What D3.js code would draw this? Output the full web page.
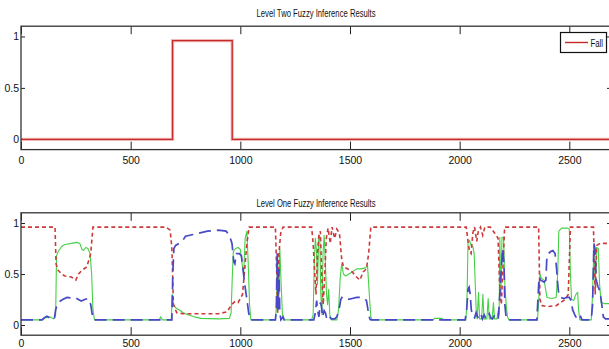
<!DOCTYPE html>
<html>
<head>
<meta charset="utf-8">
<script src="https://cdn.jsdelivr.net/npm/d3@7"></script>
<style>
  html, body { margin: 0; padding: 0; background: #fff; }
  svg { display: block; }
  text { font-family: "Liberation Sans Narrow", "Arial Narrow", "Liberation Sans", sans-serif; fill: #111; }
</style>
</head>
<body>
<svg id="chart" width="609" height="349"></svg>
<script>
// ---------------- data ----------------
const titleTop = "Level Two Fuzzy Inference Results";
const titleBottom = "Level One Fuzzy Inference Results";
const xTicks = [0, 500, 1000, 1500, 2000, 2500];
const yTicks = [0, 0.5, 1];
const xDomain = [0, 2690];
const yDomain = [-0.1, 1.1];
const legendLabels = ["Fall"];

// Level Two: Fall (step)
const fallSeries = [[0, 0], [691, 0.96], [963, 0], [2690, 0]];

// Level One: red dashed
const redSeries = [
  [0,0.96],[155,0.96],[160,0.6],[168,0.54],[185,0.5],[200,0.48],[230,0.47],[250,0.44],[262,0.5],
  [280,0.54],[300,0.57],[318,0.7],[328,0.96],[660,0.96],[680,0.93],[688,0.75],[695,0.2],[710,0.12],
  [740,0.11],[900,0.11],[940,0.13],[960,0.2],[975,0.23],[990,0.22],[1010,0.3],[1030,0.8],[1040,0.96],
  [1160,0.96],[1166,0.5],[1170,0.12],[1176,0.7],[1184,0.9],[1195,0.96],
  [1325,0.96],[1332,0.8],[1338,0.55],[1345,0.3],[1352,0.7],[1358,0.88],[1365,0.92],[1372,0.45],
  [1378,0.2],[1385,0.5],[1392,0.85],[1400,0.95],[1410,0.8],[1418,0.96],[1430,0.85],[1440,0.94],
  [1452,0.9],[1462,0.65],[1470,0.57],[1490,0.55],[1510,0.52],[1530,0.47],[1545,0.44],[1560,0.52],
  [1575,0.55],[1585,0.7],[1595,0.96],
  [2030,0.96],[2038,0.82],[2045,0.72],[2052,0.7],[2060,0.9],[2068,0.96],[2078,0.82],[2085,0.92],
  [2095,0.96],[2105,0.88],[2115,0.96],[2140,0.96],[2160,0.9],[2175,0.85],[2182,0.4],[2190,0.2],
  [2198,0.6],[2205,0.96],[2360,0.96],[2366,0.25],[2375,0.19],[2400,0.18],[2440,0.19],[2460,0.22],
  [2480,0.25],[2495,0.3],[2505,0.96],[2610,0.96],[2618,0.3],[2625,0.78],[2640,0.8],[2690,0.8]
];

// Level One: green solid
const greenSeries = [
  [0,0.05],[100,0.05],[110,0.07],[130,0.08],[150,0.06],[158,0.1],[162,0.68],[170,0.72],[185,0.77],
  [200,0.79],[230,0.8],[255,0.81],[268,0.8],[278,0.74],[285,0.73],[295,0.76],[305,0.75],[315,0.7],
  [322,0.5],[328,0.15],[335,0.05],[630,0.05],[637,0.08],[644,0.05],[685,0.05],[690,0.3],[695,0.2],
  [705,0.17],[720,0.15],[740,0.12],[760,0.1],[790,0.08],[820,0.065],[900,0.06],[950,0.065],
  [958,0.12],[963,0.45],[968,0.72],[978,0.75],[990,0.76],[1000,0.74],[1008,0.6],[1015,0.5],
  [1022,0.85],[1030,0.92],[1036,0.6],[1042,0.2],[1048,0.05],
  [1160,0.05],[1165,0.2],[1170,0.7],[1175,0.2],[1180,0.75],[1186,0.4],[1192,0.1],[1198,0.05],
  [1325,0.05],[1332,0.1],[1337,0.6],[1342,0.85],[1348,0.7],[1352,0.4],[1357,0.85],[1362,0.88],
  [1367,0.3],[1372,0.1],[1377,0.7],[1382,0.88],[1388,0.6],[1393,0.3],[1398,0.2],[1403,0.35],
  [1408,0.1],[1415,0.05],[1440,0.05],[1448,0.15],[1455,0.45],[1462,0.6],[1470,0.5],[1480,0.48],
  [1495,0.5],[1510,0.52],[1530,0.55],[1550,0.55],[1570,0.56],[1580,0.58],[1588,0.3],[1595,0.08],
  [1600,0.05],[1880,0.05],[1885,0.065],[1920,0.065],[1925,0.05],
  [2028,0.05],[2033,0.2],[2038,0.8],[2045,0.83],[2052,0.78],[2060,0.77],[2066,0.7],[2072,0.35],
  [2076,0.1],[2080,0.06],[2086,0.32],[2091,0.06],[2100,0.06],[2106,0.3],[2111,0.06],[2124,0.06],
  [2130,0.26],[2135,0.06],[2148,0.06],[2154,0.22],[2159,0.06],[2170,0.06],[2176,0.14],[2180,0.1],
  [2183,0.86],[2188,0.3],[2193,0.86],[2200,0.86],[2206,0.4],[2212,0.2],[2218,0.08],[2225,0.05],
  [2355,0.05],[2362,0.3],[2366,0.5],[2372,0.46],[2385,0.44],[2392,0.35],[2398,0.27],[2420,0.26],
  [2440,0.27],[2447,0.5],[2452,0.92],[2465,0.95],[2490,0.95],[2500,0.94],[2505,0.5],[2510,0.25],
  [2520,0.24],[2530,0.3],[2538,0.32],[2542,0.15],[2548,0.05],
  [2600,0.05],[2606,0.3],[2612,0.78],[2618,0.4],[2624,0.76],[2632,0.75],[2638,0.4],[2645,0.22],
  [2660,0.21],[2690,0.21]
];

// Level One: blue long-dashed
const blueSeries = [
  [0,0.05],[95,0.05],[105,0.07],[118,0.085],[130,0.07],[142,0.055],[152,0.06],[158,0.15],[165,0.2],
  [175,0.23],[190,0.25],[210,0.27],[230,0.265],[245,0.27],[262,0.25],[275,0.235],[290,0.25],
  [305,0.26],[318,0.2],[325,0.1],[332,0.05],[688,0.05],[692,0.5],[697,0.75],[705,0.78],[720,0.8],
  [735,0.82],[750,0.87],[790,0.89],[810,0.9],[850,0.92],[900,0.93],[935,0.92],[950,0.88],[962,0.8],
  [970,0.62],[975,0.6],[982,0.7],[995,0.7],[1005,0.68],[1012,0.55],[1020,0.4],[1030,0.25],
  [1038,0.12],[1045,0.05],
  [1160,0.05],[1164,0.15],[1168,0.7],[1172,0.15],[1176,0.55],[1180,0.12],[1185,0.05],[1195,0.08],
  [1200,0.05],
  [1335,0.05],[1342,0.12],[1348,0.24],[1353,0.14],[1358,0.08],[1365,0.22],[1370,0.18],[1375,0.08],
  [1382,0.14],[1388,0.12],[1393,0.07],[1400,0.1],[1407,0.08],[1415,0.06],[1430,0.06],[1440,0.08],
  [1450,0.15],[1458,0.25],[1463,0.27],[1475,0.25],[1490,0.25],[1510,0.26],[1530,0.27],[1550,0.27],
  [1565,0.26],[1575,0.24],[1582,0.15],[1590,0.06],[1595,0.05],
  [2025,0.05],[2032,0.15],[2038,0.35],[2043,0.37],[2048,0.3],[2053,0.15],[2060,0.08],[2068,0.07],
  [2075,0.12],[2082,0.08],[2090,0.06],[2098,0.1],[2104,0.06],[2112,0.1],[2118,0.07],[2125,0.06],
  [2135,0.11],[2142,0.07],[2150,0.06],[2160,0.1],[2168,0.07],[2176,0.06],[2183,0.3],[2190,0.55],
  [2196,0.75],[2202,0.6],[2206,0.2],[2212,0.07],[2218,0.05],
  [2352,0.05],[2358,0.3],[2362,0.47],[2370,0.44],[2385,0.42],[2393,0.44],[2398,0.68],[2405,0.7],
  [2415,0.72],[2425,0.73],[2435,0.7],[2442,0.55],[2447,0.4],[2452,0.3],[2460,0.27],[2475,0.26],
  [2490,0.27],[2500,0.27],[2508,0.24],[2515,0.15],[2525,0.1],[2535,0.06],[2545,0.05],[2552,0.08],
  [2558,0.05],
  [2600,0.05],[2606,0.2],[2612,0.8],[2617,0.75],[2622,0.45],[2630,0.38],[2640,0.33],[2648,0.2],
  [2655,0.08],[2665,0.06],[2690,0.06]
];

// ---------------- drawing ----------------
const svg = d3.select("#chart");
const left = 21, right = 611;

const panels = [
  { id: "top", top: 26.2, bottom: 149.6, title: titleTop, titleY: 17, labelPad: 6.5 },
  { id: "bot", top: 212.8, bottom: 335.2, title: titleBottom, titleY: 207, labelPad: 4 }
];

const x = d3.scaleLinear().domain(xDomain).range([left, right]);

function drawPanel(p) {
  const y = d3.scaleLinear().domain(yDomain).range([p.bottom, p.top]);
  const g = svg.append("g");

  g.append("clipPath").attr("id", "clip-" + p.id)
    .append("rect").attr("x", left).attr("y", p.top).attr("width", right - left).attr("height", p.bottom - p.top);

  g.append("rect").attr("x", left).attr("y", p.top).attr("width", right - left).attr("height", p.bottom - p.top)
    .attr("fill", "#fff");

  const fontSize = "10.5px";
  const ax = g.append("g").attr("transform", `translate(0,${p.bottom})`)
    .call(d3.axisBottom(x).tickValues(xTicks).tickFormat(d3.format("d")).tickSizeInner(-8).tickSizeOuter(0).tickPadding(p.labelPad));
  ax.select(".domain").remove();
  ax.selectAll("text").style("font-size", fontSize);
  const axt = g.append("g").attr("transform", `translate(0,${p.top})`)
    .call(d3.axisTop(x).tickValues(xTicks).tickFormat("").tickSizeInner(-8).tickSizeOuter(0));
  axt.select(".domain").remove();
  const ay = g.append("g").attr("transform", `translate(${left},0)`)
    .call(d3.axisLeft(y).tickValues(yTicks).tickFormat(d => d === 0.5 ? "0.5" : String(d)).tickSizeInner(-4).tickSizeOuter(0).tickPadding(2));
  ay.select(".domain").remove();
  ay.selectAll("text").style("font-size", fontSize);
  const ayr = g.append("g").attr("transform", `translate(${right},0)`)
    .call(d3.axisRight(y).tickValues(yTicks).tickFormat("").tickSizeInner(-4).tickSizeOuter(0));
  ayr.select(".domain").remove();
  g.selectAll(".tick line").attr("stroke", "#222").attr("stroke-width", 1);

  g.append("text").attr("x", (left + right) / 2).attr("y", p.titleY)
    .attr("text-anchor", "middle").style("font-size", "10px")
    .attr("textLength", 119).attr("lengthAdjust", "spacingAndGlyphs")
    .text(p.title);

  return { g, y };
}

const lineGen = (y, curve) => d3.line().x(d => x(d[0])).y(d => y(d[1])).curve(curve || d3.curveLinear);

// top panel
const P1 = drawPanel(panels[0]);
P1.g.append("path").datum(fallSeries)
  .attr("clip-path", "url(#clip-top)")
  .attr("fill", "none").attr("stroke", "#f2b8b8").attr("stroke-width", 3.2)
  .attr("d", lineGen(P1.y, d3.curveStepAfter));
P1.g.append("path").datum(fallSeries)
  .attr("clip-path", "url(#clip-top)")
  .attr("fill", "none").attr("stroke", "#c42a2a").attr("stroke-width", 1.3)
  .attr("d", lineGen(P1.y, d3.curveStepAfter));

// bottom panel
const P2 = drawPanel(panels[1]);
const clipG = P2.g.append("g").attr("clip-path", "url(#clip-bot)");
clipG.append("path").datum(greenSeries)
  .attr("fill", "none").attr("stroke", "#46d046").attr("stroke-width", 1.1)
  .attr("stroke-linejoin", "round")
  .attr("d", lineGen(P2.y));
clipG.append("path").datum(redSeries)
  .attr("fill", "none").attr("stroke", "#cc3a3a").attr("stroke-width", 1.6)
  .attr("stroke-dasharray", "4,3")
  .attr("d", lineGen(P2.y));
clipG.append("path").datum(blueSeries)
  .attr("fill", "none").attr("stroke", "#4848c8").attr("stroke-width", 1.7)
  .attr("stroke-dasharray", "12,6")
  .attr("d", lineGen(P2.y));

// frames
panels.forEach(p => {
  svg.append("rect").attr("x", left).attr("y", p.top).attr("width", right - left).attr("height", p.bottom - p.top)
    .attr("fill", "none").attr("stroke", "#333").attr("stroke-width", 1.3);
});

// legend (top panel)
const lg = svg.append("g");
lg.append("rect").attr("x", 560.5).attr("y", 32.5).attr("width", 46).attr("height", 20)
  .attr("fill", "#fff").attr("stroke", "#111").attr("stroke-width", 1.2);
lg.selectAll("line.leg").data(legendLabels).join("line").attr("class", "leg")
  .attr("x1", 565).attr("x2", 588).attr("y1", 42.5).attr("y2", 42.5)
  .attr("stroke", "#c42a2a").attr("stroke-width", 1.4);
lg.selectAll("text.leg").data(legendLabels).join("text").attr("class", "leg")
  .attr("x", 590.5).attr("y", 46.5).style("font-size", "10px")
  .attr("textLength", 12.5).attr("lengthAdjust", "spacingAndGlyphs")
  .text(d => d);
</script>
</body>
</html>
